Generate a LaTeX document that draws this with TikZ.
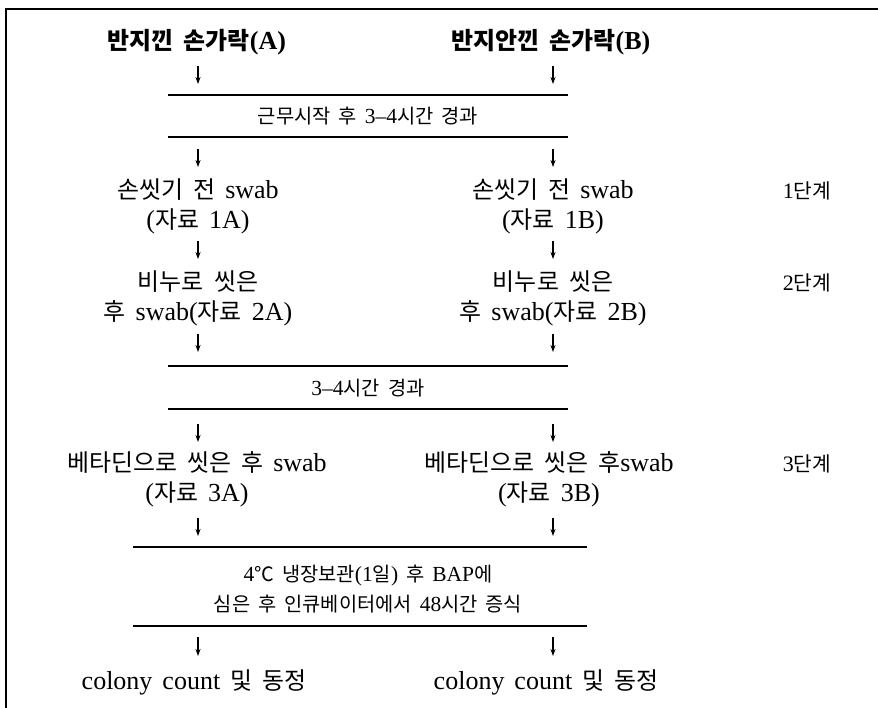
\documentclass[tikz,border=0pt]{standalone}
\usepackage{fontspec}
\setmainfont{Liberation Serif}
\newfontfamily\kr{Noto Sans CJK KR}[Scale=0.92]
\usetikzlibrary{arrows.meta}
\newcommand\K[1]{{\kr #1}}
\newcommand\widesp{\spaceskip=10pt plus 2pt minus 1pt\relax}
\newcommand\midsp{\spaceskip=8pt plus 2pt minus 1pt\relax}
\begin{document}
\begin{tikzpicture}[x=1pt,y=-1pt,
  txt/.style={inner sep=0pt, font=\fontsize{26}{30}\selectfont\widesp, align=center},
  ttl/.style={inner sep=0pt, font=\fontsize{26}{30}\selectfont\bfseries\widesp},
  mid/.style={inner sep=0pt, font=\fontsize{21.5}{30}\selectfont\midsp, align=center},
  stage/.style={inner sep=0pt, font=\fontsize{22}{26}\selectfont},
  rule/.style={line width=1.8pt},
  dn/.style={line width=1.1pt, -{Stealth[length=7pt,width=5pt]}},
  frame/.style={line width=2pt}]
\useasboundingbox (0,0) rectangle (878,708);
% frame (only top and left edges visible)
\coordinate (fb) at (6,708);
\coordinate (fc) at (6,9);
\coordinate (fr) at (878,9);
\draw[frame] (fb) -- (fc) -- (fr);

% titles
\node[ttl] (tA) at (197,42) {\K{반지낀 손가락}(A)};
\node[ttl] (tB) at (551,42) {\K{반지안낀 손가락}(B)};

% rules
\coordinate (r1a) at (168,95);  \coordinate (r1b) at (568,95);
\coordinate (r2a) at (168,137); \coordinate (r2b) at (568,137);
\coordinate (r3a) at (168,366); \coordinate (r3b) at (568,366);
\coordinate (r4a) at (168,409); \coordinate (r4b) at (568,409);
\coordinate (r5a) at (133,547); \coordinate (r5b) at (587,547);
\coordinate (r6a) at (133,626); \coordinate (r6b) at (587,626);
\foreach \r in {1,...,6} \draw[rule] (r\r a) -- (r\r b);

% middle texts
\node[mid] (m1) at (368,116) {\K{근무시작 후} 3--4\K{시간 경과}};
\node[mid] (m2) at (368,388) {3--4\K{시간 경과}};
\node[mid] (m3) at (368,589) {4\K{℃ 냉장보관}(1\K{일}) \K{후} BAP\K{에}\\
  \K{심은 후 인큐베이터에서} 48\K{시간 증식}};

% step texts
\node[txt] (s1A) at (198,206) {\K{손씻기 전} swab\\(\K{자료} 1A)};
\node[txt] (s1B) at (553,206) {\K{손씻기 전} swab\\(\K{자료} 1B)};
\node[txt] (s2A) at (198,298) {\K{비누로 씻은}\\\K{후} swab(\K{자료} 2A)};
\node[txt] (s2B) at (553,298) {\K{비누로 씻은}\\\K{후} swab(\K{자료} 2B)};
\node[txt] (s3A) at (197,479) {\K{베타딘으로 씻은 후} swab\\(\K{자료} 3A)};
\node[txt] (s3B) at (549,479) {\K{베타딘으로 씻은 후}swab\\(\K{자료} 3B)};
\node[txt] (cA) at (194,682) {colony count \K{및 동정}};
\node[txt] (cB) at (546,682) {colony count \K{및 동정}};

% stage labels
\node[stage] (g1) at (807,191) {1\K{단계}};
\node[stage] (g2) at (807,283) {2\K{단계}};
\node[stage] (g3) at (807,464) {3\K{단계}};

% arrows
\foreach \i/\ya/\yb in {1/66/84, 2/149/167, 3/241/259, 4/334/352, 5/424/442, 6/518/536, 7/637/656} {
  \coordinate (aa\i) at (198,\ya); \coordinate (ae\i) at (198,\yb);
  \coordinate (ba\i) at (553,\ya); \coordinate (be\i) at (553,\yb);
  \draw[dn] (aa\i) -- (ae\i);
  \draw[dn] (ba\i) -- (be\i);
}
\end{tikzpicture}
\end{document}
